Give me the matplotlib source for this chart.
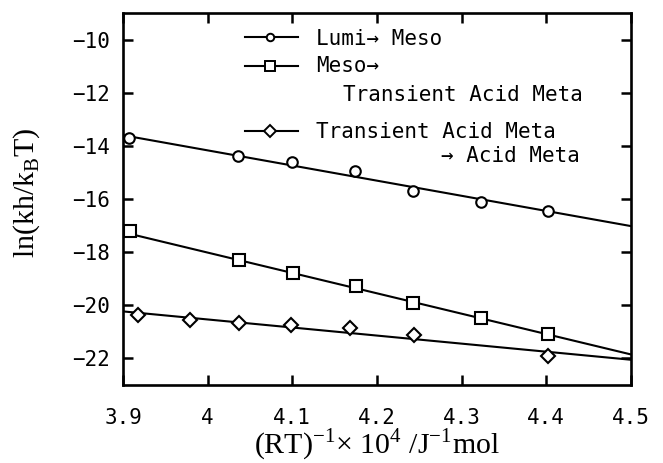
import matplotlib
matplotlib.use("Agg")
import matplotlib.pyplot as plt
from matplotlib.lines import Line2D

# ---- data ----
lumi_x = [3.907, 4.036, 4.100, 4.174, 4.242, 4.323, 4.402]
lumi_y = [-13.69, -14.40, -14.59, -14.93, -15.69, -16.10, -16.45]
meso_x = [3.908, 4.037, 4.101, 4.175, 4.243, 4.323, 4.402]
meso_y = [-17.21, -18.28, -18.78, -19.28, -19.90, -20.49, -21.07]
tam_x = [3.918, 3.979, 4.037, 4.098, 4.168, 4.244, 4.402]
tam_y = [-20.35, -20.54, -20.65, -20.75, -20.84, -21.11, -21.92]
fit_x = [3.9, 4.5]
lumi_fit = [-13.60, -17.02]
meso_fit = [-17.25, -21.85]
tam_fit = [-20.23, -22.05]
xticks = [3.9, 4.0, 4.1, 4.2, 4.3, 4.4, 4.5]
xticklabels = ["3.9", "4", "4.1", "4.2", "4.3", "4.4", "4.5"]
yticks = [-22, -20, -18, -16, -14, -12, -10]
yticklabels = ["\u221222", "\u221220", "\u221218", "\u221216", "\u221214", "\u221212", "\u221210"]
labels = ["Lumi\u2192 Meso", "Meso\u2192", "Transient Acid Meta",
          "Transient Acid Meta", "\u2192 Acid Meta"]

goth = ["DejaVu Sans Mono", "DejaVu Sans"]
serif = ["Liberation Serif", "DejaVu Serif"]
GS = 15

W, H = 663, 463
AX_L, AX_R, AX_T, AX_B = 123, 631, 13, 385
fig = plt.figure(figsize=(W / 100, H / 100), dpi=100)
ax = fig.add_axes([AX_L / W, 1 - AX_B / H, (AX_R - AX_L) / W, (AX_B - AX_T) / H])

lw = 1.5
mew = 1.5
ax.plot(fit_x, lumi_fit, color="black", lw=lw, zorder=2)
ax.plot(fit_x, meso_fit, color="black", lw=lw, zorder=2)
ax.plot(fit_x, tam_fit, color="black", lw=lw, zorder=2)
ax.plot(lumi_x, lumi_y, ls="none", marker="o", ms=7.6, mfc="white", mec="black", mew=mew, zorder=3, clip_on=False)
ax.plot(meso_x, meso_y, ls="none", marker="s", ms=8.4, mfc="white", mec="black", mew=mew, zorder=3, clip_on=False)
ax.plot(tam_x, tam_y, ls="none", marker="D", ms=7.4, mfc="white", mec="black", mew=mew, zorder=3, clip_on=False)

ax.set_xlim(3.9, 4.5)
ax.set_ylim(-23, -9)
ax.set_xticks(xticks)
ax.set_xticklabels(xticklabels, fontfamily=goth, fontsize=GS)
ax.set_yticks(yticks)
ax.set_yticklabels(yticklabels, fontfamily=goth, fontsize=GS)
ax.tick_params(direction="in", length=7.2, width=1.8, top=True, right=True)
ax.tick_params(axis="x", pad=16.5)
ax.tick_params(axis="y", pad=9.7)
for s in ax.spines.values():
    s.set_linewidth(1.9)

axw = AX_R - AX_L
axh = AX_B - AX_T

ax.set_xlabel("(RT)$^{\\mathregular{-1}}$\u00d7 10$^{\\mathregular{4}}$ /J$^{\\mathregular{-1}}$mol",
              fontfamily=serif, fontsize=21.5)
ax.xaxis.label.set_va("baseline")
ax.xaxis.set_label_coords(0.5, (AX_B - 454) / axh)
ax.set_ylabel("ln(kh/k$_{\\mathregular{B}}$T)", fontfamily=serif, fontsize=21.5)
ax.yaxis.label.set_va("baseline")
ax.yaxis.set_label_coords((34 - AX_L) / axw, (AX_B - 193) / axh)

# legend drawn manually (positions in pixels converted to axes fraction)
def ax_frac(px, py):
    return (px - AX_L) / axw, (AX_B - py) / axh

markers = ["o", "s", "D"]
msz = [5.4, 7.0, 6.4]
rows = [37, 66, 131]
for m, s, r in zip(markers, msz, rows):
    x0, y0 = ax_frac(245, r)
    x1, _ = ax_frac(298, r)
    xm, _ = ax_frac(270, r)
    ax.add_line(Line2D([x0, x1], [y0, y0], color="black", lw=lw, transform=ax.transAxes))
    ax.add_line(Line2D([xm], [y0], marker=m, ms=s, mfc="white", mec="black", mew=1.4,
                       transform=ax.transAxes, zorder=4))

text_pos = [(316, 45, "left"), (316, 72, "left"), (343, 101, "left"),
            (316, 138, "left"), (580, 162, "right")]
for lab, (px, py, ha) in zip(labels, text_pos):
    fx, fy = ax_frac(px, py)
    ax.text(fx, fy, lab, transform=ax.transAxes, fontfamily=goth, fontsize=GS,
            ha=ha, va="baseline")

fig.savefig("out.png", dpi=100)
